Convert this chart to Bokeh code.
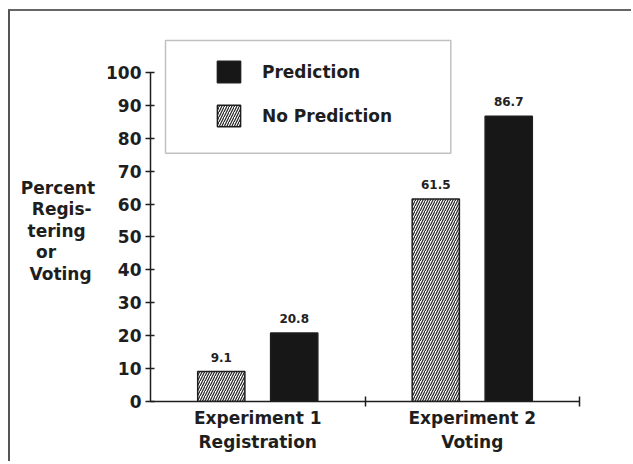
from bokeh.plotting import figure
from bokeh.models import (ColumnDataSource, Range1d, FixedTicker, Legend, LegendItem,
                          BoxAnnotation)
from bokeh.core.properties import value
from bokeh.embed import file_html
from bokeh.resources import INLINE

# ---- data ----
experiments = ["Experiment 1\nRegistration", "Experiment 2\nVoting"]
no_prediction = [9.1, 61.5]
prediction = [20.8, 86.7]
y_ticks = [0, 10, 20, 30, 40, 50, 60, 70, 80, 90, 100]
series_names = ["Prediction", "No Prediction"]
NB, TH = "\u00a0", "\u2009"
y_title = (NB + "\nPercent\nRegis-" + TH + "\ntering" + NB + TH + "\nor" + NB * 6 + TH +
           "\nVoting" + TH)

FONT = "DejaVu Sans"
INK = "#1e1e1e"

centers = [i + 0.5 for i in range(len(experiments))]
off, bw = 0.17, 0.22

p = figure(width=623, height=452, output_backend="svg", toolbar_location=None,
           x_range=Range1d(0, len(experiments)), y_range=Range1d(0, 110.3),
           min_border_left=140, min_border_right=54, min_border_top=27,
           min_border_bottom=62)
p.outline_line_color = None
p.grid.visible = False
p.background_fill_color = "white"
p.border_fill_color = "white"
p.styles = {"border-left": "2px solid #555", "border-top": "2px solid #666",
            "margin-left": "8px", "margin-top": "9px"}

src_np = ColumnDataSource(dict(x=[c - off for c in centers], top=no_prediction,
                               label=[str(v) for v in no_prediction]))
src_p = ColumnDataSource(dict(x=[c + off for c in centers], top=prediction,
                              label=[str(v) for v in prediction]))

r_np = p.vbar(x="x", top="top", width=bw, source=src_np, fill_color="white",
              line_color=INK, line_width=1.5, hatch_pattern="/", hatch_color="#222222",
              hatch_scale=5, hatch_weight=1.2)
r_p = p.vbar(x="x", top="top", width=bw, source=src_p, fill_color="#171717",
             line_color=INK, line_width=1.5)

for src in (src_np, src_p):
    p.text(x="x", y="top", text="label", source=src, text_align="center",
           text_baseline="bottom", y_offset=-10, text_font=value(FONT),
           text_font_style="bold", text_font_size="12px", text_color="#222222")

# axes
ya = p.yaxis[0]
ya.ticker = FixedTicker(ticks=y_ticks)
ya.bounds = (0, 100)
ya.major_tick_in = 4
ya.major_tick_out = 5
ya.minor_tick_line_color = None
ya.major_label_standoff = 4
ya.axis_line_color = INK
ya.axis_line_width = 1.5
ya.major_tick_line_color = INK
ya.major_tick_line_width = 1.5
ya.major_label_text_font = FONT
ya.major_label_text_font_style = "bold"
ya.major_label_text_font_size = "17px"
ya.major_label_text_color = INK
ya.axis_label = y_title
ya.axis_label_orientation = "horizontal"
ya.axis_label_standoff = 8
ya.axis_label_text_font = FONT
ya.axis_label_text_font_style = "bold"
ya.axis_label_text_font_size = "17px"
ya.axis_label_text_color = INK
ya.axis_label_text_line_height = 1.07

xa = p.xaxis[0]
xa.ticker = FixedTicker(ticks=centers, minor_ticks=[1, 2])
xa.major_label_overrides = {c: lab for c, lab in zip(centers, experiments)}
xa.major_tick_in = 0
xa.major_tick_out = 0
xa.minor_tick_in = 5
xa.minor_tick_out = 5
xa.minor_tick_line_color = INK
xa.minor_tick_line_width = 1.5
xa.axis_line_color = INK
xa.axis_line_width = 1.5
xa.major_label_standoff = 1
xa.major_label_text_font = FONT
xa.major_label_text_font_style = "bold"
xa.major_label_text_font_size = "17px"
xa.major_label_text_color = INK
xa.major_label_text_line_height = 1.21

# legend frame
box = BoxAnnotation(left=0.07, right=1.4, top=109.7, bottom=75.4,
                    fill_alpha=0, line_color="#333333", line_width=1.5)
p.add_layout(box)

legend = Legend(items=[LegendItem(label=series_names[0], renderers=[r_p]),
                       LegendItem(label=series_names[1], renderers=[r_np])],
                location=(64, 272), padding=0, spacing=17, glyph_width=29,
                glyph_height=27, label_height=27, label_standoff=19,
                border_line_color=None, background_fill_alpha=0,
                label_text_font=FONT, label_text_font_style="bold",
                label_text_font_size="17px", label_text_color=INK)
p.add_layout(legend)

open("out.html", "w").write(file_html(p, INLINE))
